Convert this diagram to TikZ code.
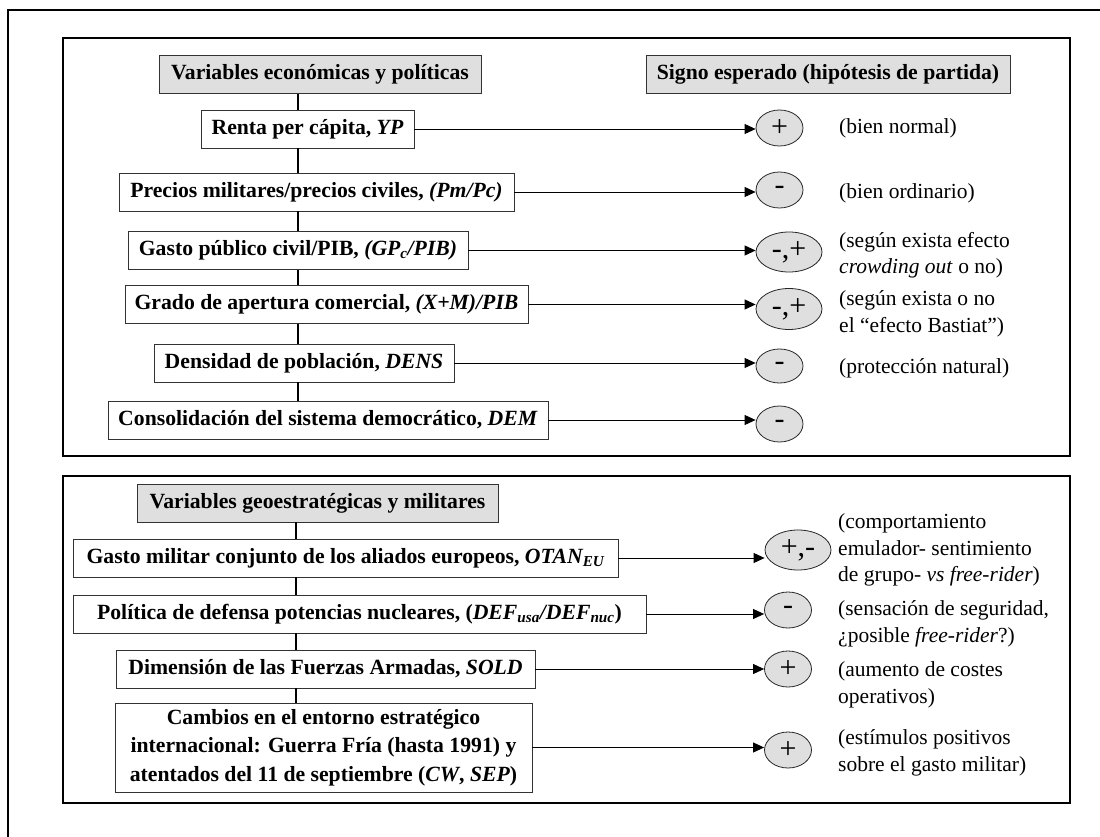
\documentclass[tikz,border=0pt]{standalone}
\usepackage{fontspec}
\setmainfont{Liberation Serif}
\usetikzlibrary{shapes.geometric,arrows.meta}
\begin{document}
\begin{tikzpicture}[x=1pt,y=-1pt,
  frame/.style={line width=2pt},
  vbox/.style={draw=black!80,line width=0.9pt,fill=white,font=\fontsize{21.7}{28.5}\selectfont\bfseries,inner sep=0pt,minimum height=38pt,align=center},
  hbox/.style={vbox,fill=gray!25},
  sign/.style={ellipse,draw=black!85,line width=0.8pt,fill=gray!25,inner sep=0pt,minimum height=36pt,font=\fontsize{30}{30}\selectfont},
  note/.style={anchor=west,align=left,inner sep=0pt,font=\fontsize{21.5}{26.5}\selectfont},
  arr/.style={line width=0.9pt,-{Triangle[length=11pt,width=10pt]}},
  spine/.style={line width=1.3pt}]
\useasboundingbox (0,0) rectangle (1100,837);
\draw[line width=2.6pt] (8,837) -- (8,10) -- (1100,10);
\draw[frame] (63,38) rectangle (1070,456);
\draw[frame] (63,476) rectangle (1070,803);

% --- economic / political block
\node[hbox,minimum width=322pt] (h1) at (320,74.5) {Variables económicas y políticas};
\node[hbox,minimum width=364pt] (h2) at (828,74.5) {Signo esperado (hipótesis de partida)};
\node[vbox,minimum width=213pt] (a1) at (307.5,129) {Renta per cápita, \textit{YP}};
\node[vbox,minimum width=395pt] (a2) at (316.5,192) {Precios militares/precios civiles, \textit{(Pm/Pc)}};
\node[vbox,minimum width=340pt] (a3) at (298,250.5) {Gasto público civil/PIB, \textit{(GP\textsubscript{c}/PIB)}};
\node[vbox,minimum width=403pt] (a4) at (326.5,304.5) {Grado de apertura comercial, \textit{(X+M)/PIB}};
\node[vbox,minimum width=300pt] (a5) at (304,363) {Densidad de población, \textit{DENS}};
\node[vbox,minimum width=440pt] (a6) at (328,420) {Consolidación del sistema democrático, \textit{DEM}};

\coordinate (s1) at (298,0);
\foreach \p/\q in {h1/a1,a1/a2,a2/a3,a3/a4,a4/a5,a5/a6}
  \draw[spine] (\p.south -| s1) -- (\q.north -| s1);

\node[sign,minimum width=47pt] (e1) at (779.5,128) {+};
\node[sign,minimum width=47pt] (e2) at (779.5,190) {-};
\node[sign,minimum width=66pt,minimum height=40pt] (e3) at (789,252) {-,+};
\node[sign,minimum width=66pt,minimum height=41pt] (e4) at (789,309) {-,+};
\node[sign,minimum width=47pt,minimum height=34pt] (e5) at (779.5,366) {-};
\node[sign,minimum width=47pt] (e6) at (779.5,424) {-};

\foreach \b/\e in {a1/e1,a2/e2,a3/e3,a4/e4,a5/e5,a6/e6}
  \draw[arr] (\b.east) -- (\b.east -| \e.west);

\node[note] (t1) at (839,128) {(bien normal)};
\node[note] (t2) at (839,193) {(bien ordinario)};
\node[note] (t3) at (839,255) {(según exista efecto\\\textit{crowding out} o no)};
\node[note] (t4) at (839,314) {(según exista o no\\el “efecto Bastiat”)};
\node[note] (t5) at (839,368) {(protección natural)};

% --- geostrategic / military block
\node[hbox,minimum width=361pt] (h3) at (317.5,503) {Variables geoestratégicas y militares};
\node[vbox,minimum width=545pt] (b1) at (345.5,558) {Gasto militar conjunto de los aliados europeos, \textit{OTAN\textsubscript{EU}}};
\node[vbox,minimum width=573pt] (b2) at (359.5,614) {Política de defensa potencias nucleares, (\textit{DEF\textsubscript{usa}/DEF\textsubscript{nuc}})};
\node[vbox,minimum width=419pt] (b3) at (325.5,669) {Dimensión de las Fuerzas Armadas, \textit{SOLD}};
\node[vbox,minimum width=417pt,minimum height=89pt] (b4) at (323.5,747.5) {Cambios en el entorno estratégico\\internacional: Guerra Fría (hasta 1991) y\\atentados del 11 de septiembre (\textit{CW}, \textit{SEP})};

\coordinate (s2) at (296,0);
\foreach \p/\q in {h3/b1,b1/b2,b2/b3,b3/b4}
  \draw[spine] (\p.south -| s2) -- (\q.north -| s2);

\node[sign,minimum width=66pt,minimum height=40pt] (f1) at (798,550) {+,-};
\node[sign,minimum width=47pt] (f2) at (788,610) {-};
\node[sign,minimum width=47pt] (f3) at (788,669) {+};
\node[sign,minimum width=47pt] (f4) at (788,750) {+};

\foreach \b/\e in {b1/f1,b2/f2,b3/f3,b4/f4}
  \draw[arr] (\b.east) -- (\b.east -| \e.west);

\node[note] (u1) at (838,550) {(comportamiento\\emulador- sentimiento\\de grupo- \textit{vs free-rider})};
\node[note] (u2) at (838,624) {(sensación de seguridad,\\¿posible \textit{free-rider}?)};
\node[note] (u3) at (838,685) {(aumento de costes\\operativos)};
\node[note] (u4) at (838,753) {(estímulos positivos\\sobre el gasto militar)};
\end{tikzpicture}
\end{document}
